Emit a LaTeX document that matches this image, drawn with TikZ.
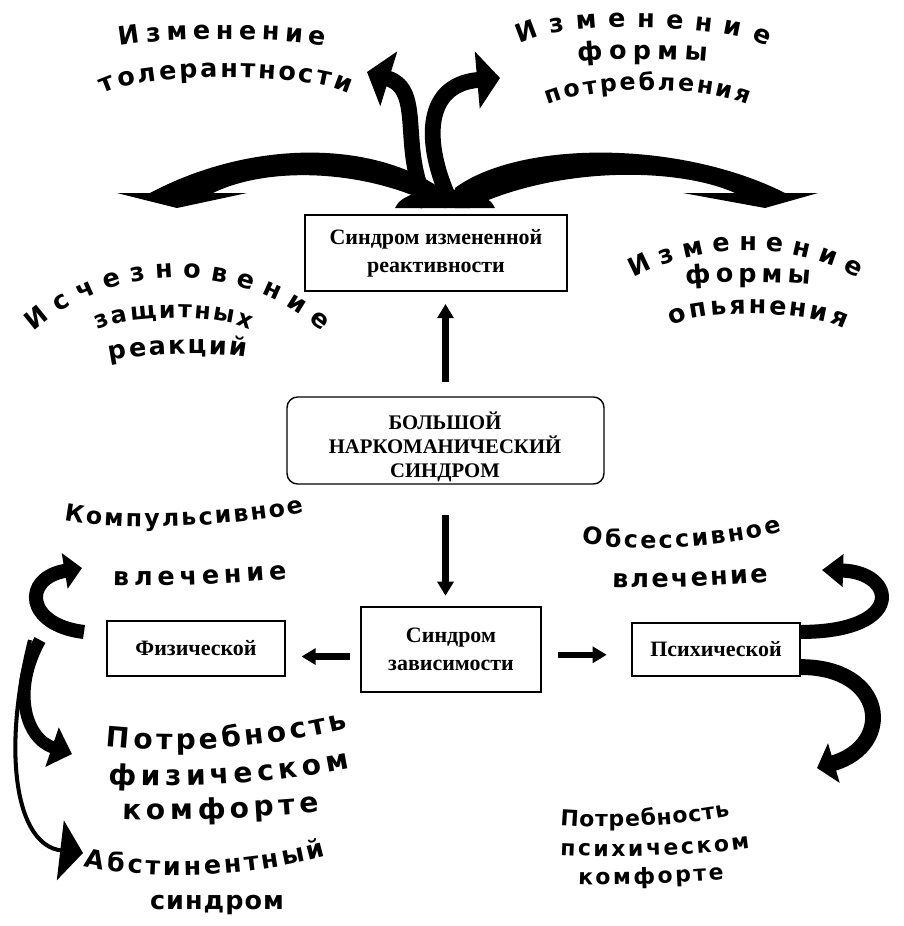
\documentclass[tikz,border=0pt]{standalone}
\usepackage{fontspec}
\setmainfont{Liberation Serif}
\newfontfamily\artfam{DejaVu Sans}
\newcommand\artS{\artfam\bfseries\fontsize{12.5pt}{13pt}\selectfont}
\newcommand\artN{\artfam\bfseries\fontsize{13.5pt}{14pt}\selectfont}
\newcommand\artM{\artfam\bfseries\fontsize{14.5pt}{15pt}\selectfont}
\newcommand\artL{\artfam\bfseries\fontsize{16pt}{17pt}\selectfont}
\usetikzlibrary{arrows.meta,decorations.text}
\tikzset{
	box/.style={draw,line width=0.8pt,align=center,inner sep=0pt,font=\bfseries\fontsize{12.5pt}{16pt}\selectfont},
	bigbox/.style={draw,line width=0.8pt,rounded corners=6pt,minimum width=6.34cm,minimum height=1.74cm},
	bigtext/.style={align=center,inner sep=0pt,font=\bfseries\fontsize{11.8pt}{13.5pt}\selectfont},
	flow/.style={line width=3.5pt,-{Triangle[width=9pt,length=8pt]}},
	swirl/.style={line width=#1},
	arch/.style={decorate,decoration={text along path,text align={fit to path},text={#1}}}
}
\begin{document}
\begin{tikzpicture}[x=0.02cm,y=-0.02cm]
	\useasboundingbox (0,0) rectangle (903,926) ;
	% boxes
	\node[box,minimum width=5.24cm,minimum height=1.52cm] (react) at (436,253) {Синдром измененной\\реактивности} ;
	\node[bigbox] (big) at (445.5,440.5) {} ;
	\node[bigtext] (bigtxt) at (445,447) {БОЛЬШОЙ\\НАРКОМАНИЧЕСКИЙ\\СИНДРОМ} ;
	\node[box,minimum width=3.6cm,minimum height=1.7cm] (depend) at (451,649.5) {Синдром\\зависимости} ;
	\node[box,minimum width=3.56cm,minimum height=1.1cm] (phys) at (196,648.5) {Физической} ;
	\node[box,minimum width=3.36cm,minimum height=1.06cm] (psych) at (716,649.5) {Психической} ;
	% straight arrows
	\coordinate (dl) at ([yshift=-4pt]depend.west) ;
	\coordinate (dr) at ([yshift=-3pt]depend.east) ;
	\draw[flow,shorten <=8pt,shorten >=7pt] (big.north) -- (big.north |- react.south) ;
	\draw[flow,shorten <=17pt,shorten >=6pt] (big.south) -- (big.south |- depend.north) ;
	\draw[flow,shorten <=6pt,shorten >=9pt] (dl) -- (dl -| phys.east) ;
	\draw[flow,shorten <=9pt,shorten >=14pt] (dr) -- (dr -| psych.west) ;
	% top block arrows
	\fill (395,208) .. controls (405,183) and (485,183) .. (495,208) -- cycle ;
	\fill (440,208) -- (440,188) .. controls (370,140) and (250,140) .. (150,193) -- (117,193) -- (177,208) -- (247,193) -- (213,193) .. controls (270,165) and (370,170) .. (440,208) -- cycle ;
	\fill (455,208) -- (455,188) .. controls (520,140) and (680,140) .. (785,193) -- (818,193) -- (765,208) -- (683,193) -- (735,193) .. controls (680,168) and (560,165) .. (470,208) -- cycle ;
	\coordinate (tolT) at (367,72) ;
	\coordinate (useT) at (500,78) ;
	\draw[swirl=9pt,-{Triangle[width=32pt,length=13pt]}] (428,205) .. controls (398,150) and (425,90) .. (tolT) ;
	\draw[swirl=9pt,-{Triangle[width=32pt,length=13pt]}] (452,205) .. controls (425,150) and (420,85) .. (useT) ;
	% left side arrows
	\coordinate (compT) at (82,568) ;
	\coordinate (needT) at (72,754) ;
	\coordinate (abstT) at (83,853) ;
	\draw[swirl=8pt,-{Triangle[width=20pt,length=10pt]}] (84,632) .. controls (25,625) and (22,578) .. (compT) ;
	\draw[swirl=7pt,-{Triangle[width=23pt,length=12pt]}] (40,640) .. controls (12,690) and (25,738) .. (needT) ;
	\draw[swirl=2.3pt,-{Triangle[width=34pt,length=13pt]}] (30,640) .. controls (2,750) and (15,845) .. (abstT) ;
	% right side arrows
	\coordinate (g1) at ([yshift=10pt]psych.east) ;
	\coordinate (g2) at ([yshift=-10pt]psych.east) ;
	\coordinate (obsT) at (822,570) ;
	\coordinate (psyT) at (817,768) ;
	\draw[swirl=8pt,-{Triangle[width=18pt,length=12pt]}] (g1) .. controls +(105,0) and +(75,2) .. (obsT) ;
	\draw[swirl=9pt,-{Triangle[width=23pt,length=10pt]}] (g2) .. controls +(85,0) and +(78,-23) .. (psyT) ;
	% curved labels, top
	\path[arch={|\artM|Изменение}] (120,46) .. controls +(45,-9) and +(-45,-9) .. (325,46) ;
	\path[arch={|\artM|толерантности}] (103,94) .. controls +(38,-22) and +(-38,-22) .. (349,94) ;
	\path[arch={|\artM|Изменение}] (520,44) .. controls +(35,-24) and +(-35,-24) .. (767,47) ;
	\path[arch={|\artM|формы}] (578,62) .. controls +(30,-4) and +(-30,-4) .. (707,62) ;
	\path[arch={|\artN|потребления}] (548,105) .. controls +(48,-20) and +(-48,-20) .. (748,105) ;
	% curved labels, middle
	\path[arch={|\artM|Исчезновение}] (34,332) .. controls +(80,-72) and +(-80,-72) .. (322,332) ;
	\path[arch={|\artN|защитных}] (98,330) .. controls +(30,-16) and +(-30,-16) .. (250,330) ;
	\path[arch={|\artM|реакций}] (110,361) .. controls +(25,-7) and +(-25,-7) .. (246,358) ;
	\path[arch={|\artM|Изменение}] (634,278) .. controls +(69,-37) and +(-69,-37) .. (858,278) ;
	\path[arch={|\artM|формы}] (686,285) .. controls +(30,-4) and +(-30,-4) .. (810,285) ;
	\path[arch={|\artM|опьянения}] (672,326) .. controls +(25,-18) and +(-25,-18) .. (844,329) ;
	% curved labels, bottom
	\path[arch={|\artN|Компульсивное}] (64,520) .. controls +(60,12) and +(-62,14) .. (304,512) ;
	\path[arch={|\artM|влечение}] (113,585) .. controls +(60,2) and +(-60,4) .. (287,579) ;
	\path[arch={|\artN|Обсессивное}] (582,542) .. controls +(50,12) and +(-60,16) .. (782,532) ;
	\path[arch={|\artM|влечение}] (612,587) .. controls +(50,2) and +(-50,4) .. (768,582) ;
	\path[arch={|\artL|Потребность}] (106,746) .. controls +(80,8) and +(-80,20) .. (348,728) ;
	\path[arch={|\artL|физическом}] (108,784) .. controls +(80,5) and +(-80,16) .. (350,768) ;
	\path[arch={|\artL|комфорте}] (122,819) .. controls +(60,2) and +(-60,6) .. (320,812) ;
	\path[arch={|\artM|Абстинентный}] (84,866) .. controls +(70,16) and +(-70,20) .. (326,856) ;
	\path[arch={|\artM|синдром}] (150,909) .. controls +(40,0) and +(-40,0) .. (284,909) ;
	\path[arch={|\artS|Потребность}] (560,825) .. controls +(50,4) and +(-50,10) .. (730,816) ;
	\path[arch={|\artS|психическом}] (560,855) .. controls +(55,3) and +(-55,8) .. (750,848) ;
	\path[arch={|\artS|комфорте}] (578,884) .. controls +(45,2) and +(-45,3) .. (724,880) ;
\end{tikzpicture}
\end{document}
